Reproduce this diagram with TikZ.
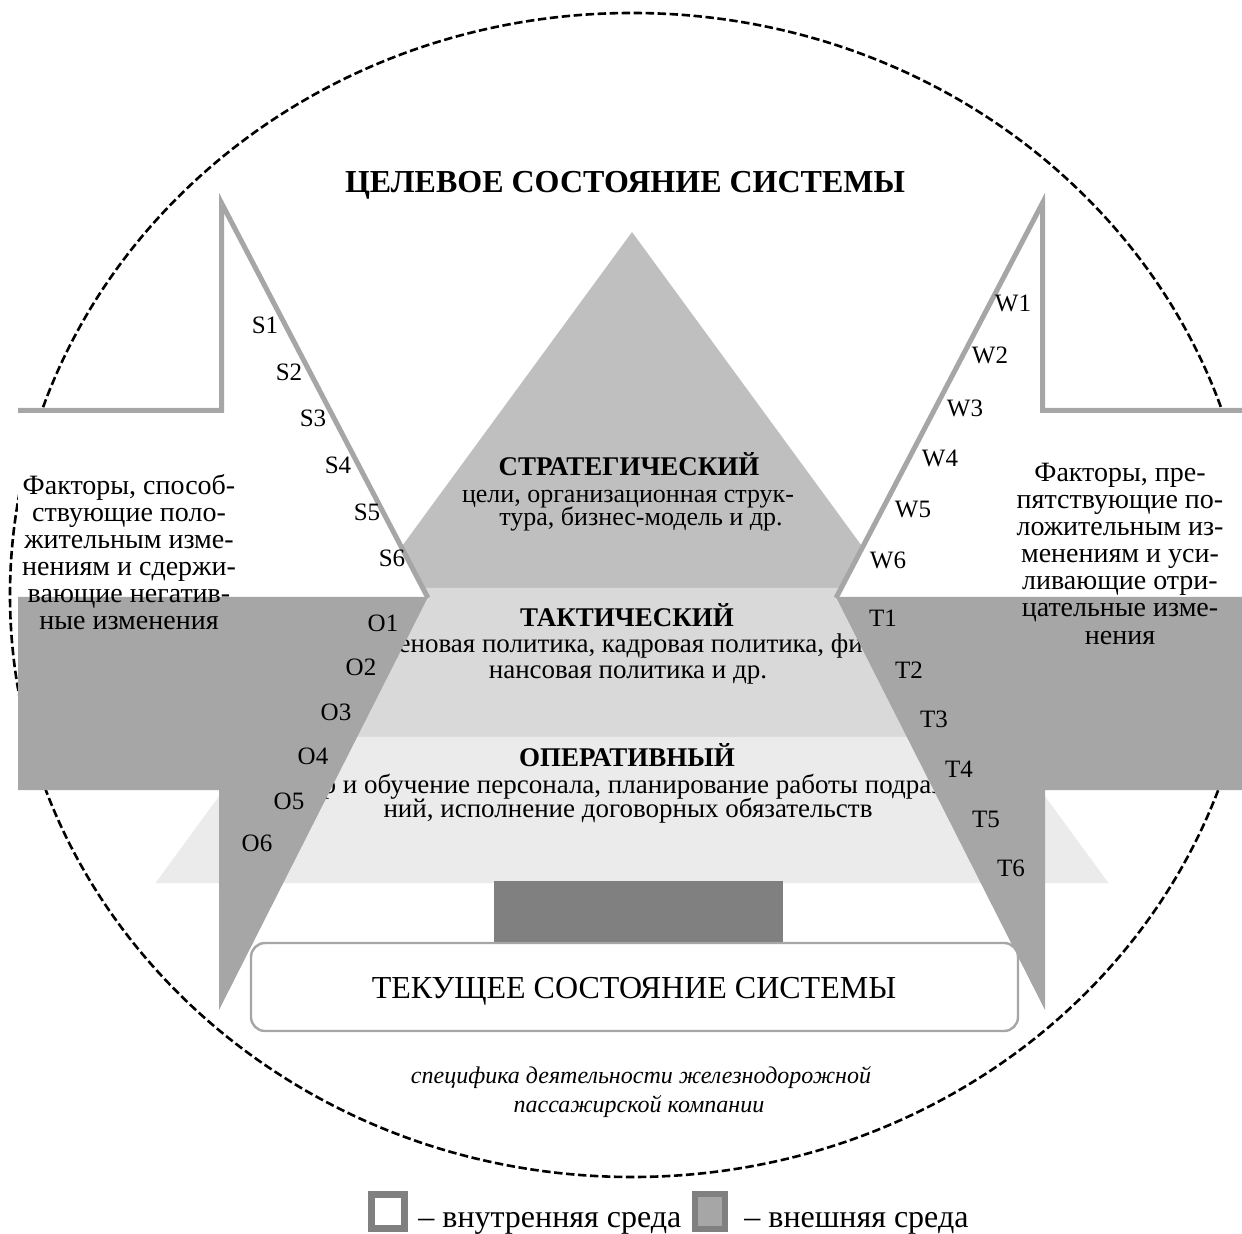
\documentclass[tikz,border=0pt]{standalone}
\usepackage{fontspec}
\setmainfont{Liberation Serif}
\definecolor{cStrat}{HTML}{BFBFBF}
\definecolor{cTakt}{HTML}{D9D9D9}
\definecolor{cOper}{HTML}{EBEBEB}
\definecolor{cExt}{HTML}{A6A6A6}
\definecolor{cDark}{HTML}{808080}
\begin{document}
\begin{tikzpicture}[x=0.5pt,y=-0.5pt,
  circ/.style={line width=1.3pt, dash pattern=on 4.2pt off 1.8pt},
  arrline/.style={draw=cExt, line width=2.5pt, line join=miter, miter limit=20},
  pyrhead/.style={font=\fontsize{13.5}{15}\selectfont\bfseries, inner sep=0pt, anchor=base},
  pyrbody/.style={font=\fontsize{13.5}{15}\selectfont, inner sep=0pt, anchor=base},
  strbody/.style={font=\fontsize{13}{14}\selectfont, inner sep=0pt, anchor=base},
  fact/.style={font=\fontsize{14}{16}\selectfont, inner sep=0pt, anchor=base},
  lbl/.style={font=\fontsize{12.5}{14}\selectfont, inner sep=0pt},
  legtxt/.style={font=\fontsize{16}{18}\selectfont, inner sep=0pt, anchor=base west},
  ital/.style={font=\fontsize{12}{14}\selectfont\itshape, inner sep=0pt, anchor=base},
]
\useasboundingbox (0,0) rectangle (1242,1234);
\clip (0,0) rectangle (1242,1234);

% dashed boundary
\draw[circ] (632,595) ellipse [x radius=311pt, y radius=291pt];

% pyramid
\fill[cStrat] (632,232) -- (892.6,588) -- (371.4,588) -- cycle;
\fill[cTakt] (371.4,588) -- (892.6,588) -- (1001.6,737) -- (262.4,737) -- cycle;
\fill[cOper] (262.4,737) -- (1001.6,737) -- (1108.5,883) -- (155.5,883) -- cycle;

\node[pyrhead] (sh) at (629,476) {СТРАТЕГИЧЕСКИЙ};
\node[strbody] (sb1) at (628,503) {цели, организационная струк-};
\node[strbody] (sb2) at (641,526) {тура, бизнес-модель и др.};
\node[pyrhead] (th) at (627,627) {ТАКТИЧЕСКИЙ};
\node[pyrbody] (tb1) at (628,653) {ценовая политика, кадровая политика, фи-};
\node[pyrbody] (tb2) at (628,679) {нансовая политика и др.};
\node[pyrhead] (oh) at (627,767) {ОПЕРАТИВНЫЙ};
\node[pyrbody] (ob1) at (628,793) {подбор и обучение персонала, планирование работы подразделе-};
\node[pyrbody] (ob2) at (628,818) {ний, исполнение договорных обязательств};

% left arrow
\fill[white] (18,410.5) -- (221.5,410.5) -- (221.5,203) -- (428,598) -- (18,598) -- cycle;
\draw[arrline] (18,410.5) -- (221.5,410.5) -- (221.5,203) -- (428,598);
\fill[cExt] (18,597) -- (428,597) -- (219,1010) -- (219,790) -- (18,790) -- cycle;

% right arrow
\fill[white] (1246,410.5) -- (1042.5,410.5) -- (1042.5,203) -- (836,598) -- (1246,598) -- cycle;
\draw[arrline] (1246,410.5) -- (1042.5,410.5) -- (1042.5,203) -- (836,598);
\fill[cExt] (1246,597) -- (836,597) -- (1045,1010) -- (1045,790) -- (1246,790) -- cycle;

% title
\node[font=\fontsize{16}{18}\selectfont\bfseries, inner sep=0pt, anchor=base] (title) at (625,193) {ЦЕЛЕВОЕ СОСТОЯНИЕ СИСТЕМЫ};

% current state
\fill[cDark] (494,881) rectangle (783,946);
\node[draw=cExt, line width=1.2pt, fill=white, rounded corners=7pt,
      minimum width=383.5pt, minimum height=44pt, inner sep=0pt] (cur) at (634.5,987) {};
\node[font=\fontsize{16}{18}\selectfont, inner sep=0pt, anchor=base] (curt) at (634,998) {ТЕКУЩЕЕ СОСТОЯНИЕ СИСТЕМЫ};

% factor texts
\foreach \y/\t [count=\i] in {495/{Факторы, способ-}, 522/{ствующие поло-}, 549/{жительным изме-},
    576/{нениям и сдержи-}, 603/{вающие негатив-}, 630/{ные изменения}}
  \node[fact] (fl\i) at (129,\y) {\t};
\foreach \y/\t [count=\i] in {482/{Факторы, пре-}, 509/{пятствующие по-}, 536/{ложительным из-},
    563/{менениям и уси-}, 590/{ливающие отри-}, 617/{цательные изме-}, 645/{нения}}
  \node[fact] (fr\i) at (1120,\y) {\t};

% labels
\foreach \x/\y [count=\i] in {265/325, 289/372, 313/418, 338/465, 367/512, 392/558}
  \node[lbl] (S\i) at (\x,\y) {S\i};
\foreach \x/\y [count=\i] in {1013/303, 990/355, 965/408, 940/458, 913/510, 888/560}
  \node[lbl] (W\i) at (\x,\y) {W\i};
\foreach \x/\y [count=\i] in {383/623, 361/667, 336/712, 313/756, 289/801, 257/843}
  \node[lbl] (O\i) at (\x,\y) {O\i};
\foreach \x/\y [count=\i] in {883/618, 909/670, 934/719, 959/769, 986/819, 1011/868}
  \node[lbl] (T\i) at (\x,\y) {T\i};

% italic note
\node[ital] (sp1) at (641,1083) {специфика деятельности железнодорожной};
\node[ital] (sp2) at (639,1112) {пассажирской компании};

% legend
\draw[cDark, line width=3.2pt, fill=white] (371.5,1194.5) rectangle (404.5,1228.5);
\node[legtxt] (lg1) at (418,1227) {– внутренняя среда};
\draw[cDark, line width=3pt, fill=cExt] (695,1194) rectangle (725,1229);
\node[legtxt] (lg2) at (744,1227) {– внешняя среда};
\end{tikzpicture}
\end{document}
